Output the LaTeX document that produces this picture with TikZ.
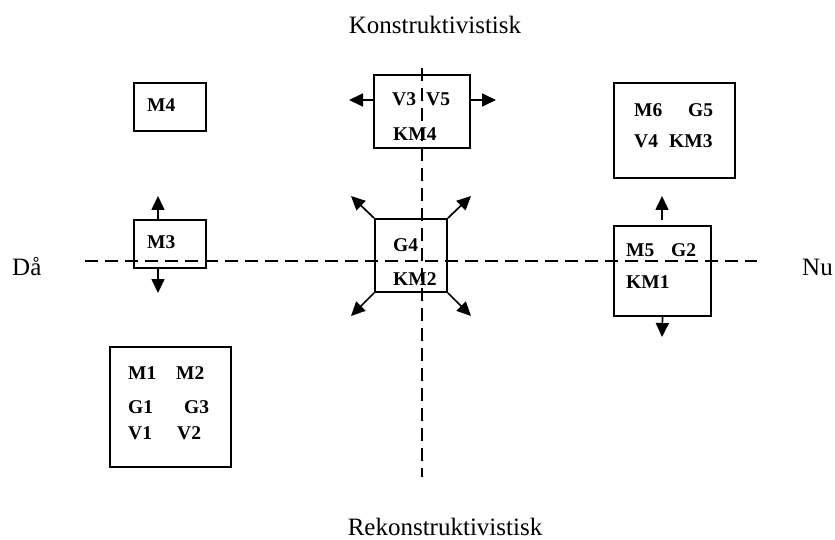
\documentclass[tikz,border=0pt]{standalone}
\usepackage{fontspec}
\setmainfont{Liberation Serif}
\usetikzlibrary{arrows.meta}
\begin{document}
\begin{tikzpicture}[x=1pt,y=-1pt,
  lbl/.style={font=\fontsize{25}{30}\selectfont,inner sep=0,anchor=base},
  itm/.style={font=\fontsize{19.5}{23}\selectfont\bfseries,inner sep=0,anchor=west},
  box/.style={draw,line width=1.8pt,inner sep=0,fill=white},
  axisline/.style={line width=1.5pt,dash pattern=on 13pt off 7pt},
  arr/.style={line width=1.7pt,-{Triangle[length=14pt,width=13pt]}}]
\useasboundingbox (0,0) rectangle (835,540);
% axes
\coordinate (hL) at (85,261);
\coordinate (hR) at (757,261);
\coordinate (vT) at (422,68);
\coordinate (vB) at (422,477);
% boxes (drawn before axes so axes cross on top)
\node[box,minimum width=72pt,minimum height=48pt] (bM4) at (170,107) {};
\node[box,minimum width=72pt,minimum height=48pt] (bM3) at (170,244) {};
\node[box,minimum width=121pt,minimum height=120pt] (bM1) at (170.5,407) {};
\node[box,minimum width=96pt,minimum height=73pt] (bV) at (422,111.5) {};
\node[box,minimum width=72pt,minimum height=73pt] (bG) at (411,255.5) {};
\node[box,minimum width=121pt,minimum height=95pt] (bM6) at (674.5,130.5) {};
\node[box,minimum width=97pt,minimum height=90pt] (bM5) at (662.5,271) {};
\draw[axisline] (hL) -- (hR);
\draw[axisline] (vT) -- (vB);
% axis labels
\node[lbl] (top) at (435,34) {Konstruktivistisk};
\node[lbl] (bot) at (445,535) {Rekonstruktivistisk};
\node[lbl,anchor=base west] (da) at (12,275) {Då};
\node[lbl,anchor=base west] (nu) at (802,275) {Nu};
% box texts
\node[itm] (tM4) at (147,105) {M4};
\node[itm] (tM3) at (147,242) {M3};
\node[itm] (tM1) at (128,373) {M1};
\node[itm] (tM2) at (176,373) {M2};
\node[itm] (tG1) at (128,407) {G1};
\node[itm] (tG3) at (184,407) {G3};
\node[itm] (tV1) at (128,433) {V1};
\node[itm] (tV2) at (177,433) {V2};
\node[itm] (tV3) at (392,99) {V3};
\node[itm] (tV5) at (426,99) {V5};
\node[itm] (tKM4) at (393,134) {KM4};
\node[itm] (tG4) at (393,245) {G4};
\node[itm] (tKM2) at (393,279) {KM2};
\node[itm] (tM6) at (634,110) {M6};
\node[itm] (tG5) at (688,110) {G5};
\node[itm] (tV4) at (634,141) {V4};
\node[itm] (tKM3) at (669,141) {KM3};
\node[itm] (tM5) at (626,250) {M5};
\node[itm] (tG2) at (671,250) {G2};
\node[itm] (tKM1) at (626,282) {KM1};
% arrow end points
\coordinate (m3u) at (158,196);
\coordinate (m3d) at (158,293);
\coordinate (vl) at (349,100);
\coordinate (vr) at (496,100);
\coordinate (gtl) at (351,196);
\coordinate (gtr) at (471,196);
\coordinate (gbl) at (351,316);
\coordinate (gbr) at (471,316);
\coordinate (m5uS) at (662,220);
\coordinate (m5u) at (662,196);
\coordinate (m5d) at (662,337);
% arrows
\draw[arr] ([xshift=-12pt]bM3.north) -- (m3u);
\draw[arr] ([xshift=-12pt]bM3.south) -- (m3d);
\draw[arr] ([yshift=11.5pt]bV.west) -- (vl);
\draw[arr] ([yshift=11.5pt]bV.east) -- (vr);
\draw[arr] (bG.north west) -- (gtl);
\draw[arr] (bG.north east) -- (gtr);
\draw[arr] (bG.south west) -- (gbl);
\draw[arr] (bG.south east) -- (gbr);
\draw[arr] (m5uS) -- (m5u);
\draw[arr] (bM5.south) -- (m5d);
\end{tikzpicture}
\end{document}
